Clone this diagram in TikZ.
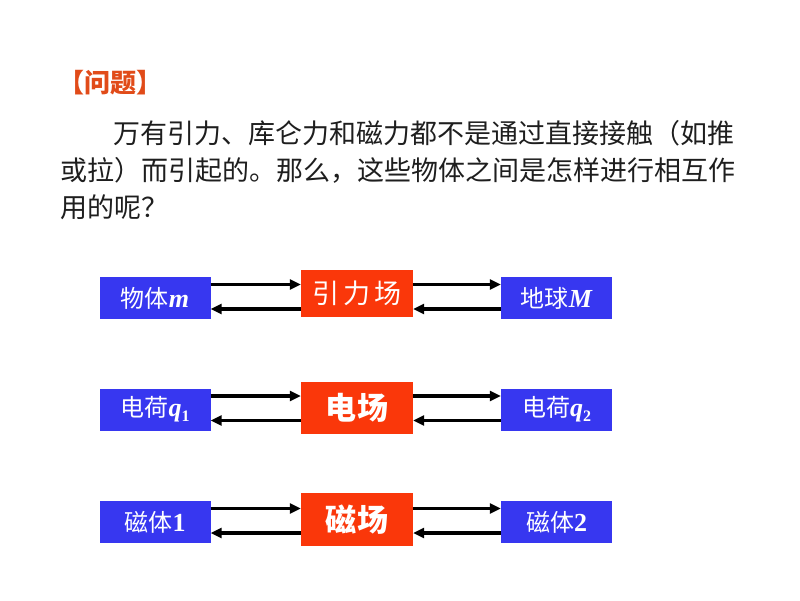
\documentclass[tikz,border=0pt]{standalone}
\usepackage{fontspec}
\usetikzlibrary{arrows.meta}
\newfontfamily\cjk{Noto Sans CJK SC}
\newfontfamily\tnr{Liberation Serif}
\definecolor{boxblue}{RGB}{55,55,240}
\definecolor{fieldred}{RGB}{250,55,10}
\definecolor{titlered}{RGB}{225,75,25}
\definecolor{bodytext}{RGB}{30,30,30}
\newcommand{\sym}[1]{{\tnr\bfseries\itshape\fontsize{26}{26}\selectfont #1}}
\newcommand{\num}[1]{{\tnr\bfseries\fontsize{26}{26}\selectfont #1}}
\newcommand{\lowidx}[1]{\raisebox{-5pt}{\tnr\bfseries\fontsize{16}{16}\selectfont #1}}

\begin{document}
\begin{tikzpicture}[x=1pt,y=-1pt,
	body/.style={anchor=west,inner sep=0pt,text=bodytext,font=\cjk\fontsize{27}{27}\selectfont},
	obj/.style={fill=boxblue,text=white,minimum width=111pt,minimum height=42pt,inner sep=0pt,font=\cjk\fontsize{24}{24}\selectfont},
	field/.style={fill=fieldred,text=white,minimum width=112pt,inner sep=0pt},
	link/.style={line width=3.2pt,-{Triangle[length=11pt,width=10pt]}}]
	\useasboundingbox (0,0) rectangle (800,600);
	\node [anchor=west,inner sep=0pt,text=titlered,font=\cjk\bfseries\fontsize{26}{26}\selectfont] (title) at (58,83) {【问题】};
	\node [body] (line1) at (113,133) {万有引力、库仑力和磁力都不是通过直接接触（如推};
	\node [body] (line2) at (60,170) {或拉）而引起的。那么，这些物体之间是怎样进行相互作};
	\node [body] (line3) at (60,207) {用的呢？};

	\node [obj] (m) at (155,298) {物体\sym{m}};
	\node [field,minimum height=47pt,font=\cjk\fontsize{27}{27}\selectfont] (g) at (357,293.5) {引\hspace{4pt}力\hspace{4pt}场};
	\node [obj] (M) at (556.5,298) {地球\sym{M}};

	\node [obj] (q1) at (155,409.5) {电荷\sym{q}\lowidx{1}};
	\node [field,minimum height=52pt,font=\cjk\bfseries\fontsize{31}{31}\selectfont] (e) at (357,408) {电\hspace{2pt}场};
	\node [obj] (q2) at (556.5,409.5) {电荷\sym{q}\lowidx{2}};

	\node [obj] (n1) at (155,522) {磁体\num{1}};
	\node [field,minimum height=53pt,font=\cjk\bfseries\fontsize{31}{31}\selectfont] (b) at (357,519.5) {磁\hspace{2pt}场};
	\node [obj] (n2) at (556.5,522) {磁体\num{2}};

	\foreach \src/\fld/\dst in {m/g/M,q1/e/q2,n1/b/n2}{
		\draw [link] ([yshift=13.5pt]\src.east) -- ([yshift=13.5pt]\src.east -| \fld.west);
		\draw [link] ([yshift=-11pt]\src.east -| \fld.west) -- ([yshift=-11pt]\src.east);
		\draw [link] ([yshift=13.5pt]\dst.west -| \fld.east) -- ([yshift=13.5pt]\dst.west);
		\draw [link] ([yshift=-11pt]\dst.west) -- ([yshift=-11pt]\dst.west -| \fld.east);
	}
\end{tikzpicture}
\end{document}
